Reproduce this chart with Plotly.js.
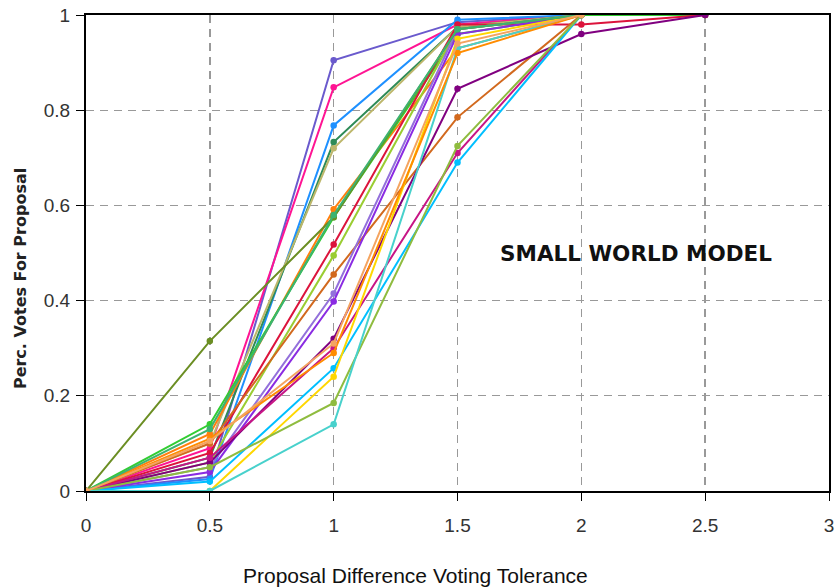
<!DOCTYPE html>
<html>
<head>
<meta charset="utf-8">
<script src="https://cdn.plot.ly/plotly-3.0.1.min.js"></script>
<style>html,body{margin:0;padding:0;background:#fff;}#chart{width:839px;height:588px;}</style>
</head>
<body>
<div id="chart"></div>
<script>
const tolerance = [0, 0.5, 1, 1.5, 2, 2.5];
const seriesNames = ["s1","s2","s3","s4","s5","s6","s7","s8","s9","s10","s11","s12","s13","s14","s15","s16","s17","s18","s19","s20","s21","s22"];
const seriesColors = ["#6a5acd","#ff1493","#1e90ff","#2e8b57","#bdb76b","#ff7f0e","#32cd32","#dc143c","#9acd32","#d2691e","#9370db","#8a2be2","#800080","#c71585","#00bfff","#ffd700","#8fbc3f","#48d1cc","#6b8e23","#ff8c00","#3cb371","#f4a460"];
const seriesValues = [
  [0, 0.03, 0.905, 0.985, 1],
  [0, 0.09, 0.848, 0.98, 1],
  [0, 0.025, 0.768, 0.99, 1],
  [0, 0.07, 0.733, 0.975, 1],
  [0, 0.10, 0.72, 0.975, 1],
  [0, 0.12, 0.592, 0.93, 1],
  [0, 0.14, 0.575, 0.96, 1, 1],
  [0, 0.08, 0.518, 0.98, 0.98, 1],
  [0, 0.06, 0.495, 0.97, 1],
  [0, 0.10, 0.455, 0.785, 1],
  [0, 0.05, 0.415, 0.97, 1],
  [0, 0.04, 0.398, 0.96, 1],
  [0, 0.06, 0.32, 0.845, 0.96, 1],
  [0, 0.07, 0.30, 0.71, 1],
  [0, 0.02, 0.258, 0.69, 1],
  [0, 0.0, 0.24, 0.95, 1],
  [0, 0.05, 0.185, 0.725, 1],
  [0, 0.0, 0.14, 0.93, 1],
  [0, 0.315, 0.575, 0.97, 1],
  [0, 0.11, 0.29, 0.92, 1],
  [0, 0.13, 0.58, 0.97, 1],
  [0, 0.105, 0.31, 0.94, 1]
];
const xTickVals = [0, 0.5, 1, 1.5, 2, 2.5, 3];
const xTickText = ["0","0.5","1","1.5","2","2.5","3"];
const yTickVals = [0, 0.2, 0.4, 0.6, 0.8, 1];
const yTickText = ["0","0.2","0.4","0.6","0.8","1"];

const traces = seriesValues.map((vals, i) => ({
  x: tolerance.slice(0, vals.length),
  y: vals,
  name: seriesNames[i],
  type: "scatter",
  mode: "lines+markers",
  line: {color: seriesColors[i], width: 2},
  marker: {color: seriesColors[i], size: 6.5},
  showlegend: false
}));

const tickFont = {family: "Liberation Sans, Arial", size: 19, color: "#333"};
const layout = {
  width: 839, height: 588,
  margin: {l: 86, r: 10, t: 15, b: 97},
  paper_bgcolor: "#fff", plot_bgcolor: "#fff",
  xaxis: {
    range: [0, 3], tickvals: xTickVals, ticktext: xTickText,
    ticks: "outside", ticklen: 8, tickcolor: "#000", tickwidth: 1,
    ticklabelstandoff: 8,
    showline: true, linecolor: "#000", linewidth: 2, mirror: true,
    showgrid: true, gridcolor: "#999", griddash: "8px,6px", gridwidth: 1.4,
    zeroline: false, tickfont: tickFont
  },
  yaxis: {
    range: [0, 1], tickvals: yTickVals, ticktext: yTickText,
    ticks: "outside", ticklen: 8, tickcolor: "#000", tickwidth: 1,
    ticklabelstandoff: 2,
    showline: true, linecolor: "#000", linewidth: 2, mirror: true,
    showgrid: true, gridcolor: "#999", griddash: "8px,6px", gridwidth: 1.4,
    zeroline: false, tickfont: tickFont
  },
  annotations: [
    {text: "<b>SMALL WORLD MODEL</b>", xref: "paper", yref: "paper", x: 0.74, y: 0.5,
     xanchor: "center", yanchor: "middle",
     showarrow: false, font: {family: "DejaVu Sans, Verdana", size: 21.5, color: "#111"}},
    {text: "Proposal Difference Voting Tolerance", xref: "paper", yref: "paper", x: 0.444, y: -0.177,
     xanchor: "center", yanchor: "middle", showarrow: false,
     font: {family: "Liberation Sans, Arial", size: 21, color: "#111"}},
    {text: "<b>Perc. Votes For Proposal</b>", xref: "paper", yref: "paper", x: -0.089, y: 0.447,
     xanchor: "center", yanchor: "middle", showarrow: false, textangle: -90,
     font: {family: "DejaVu Sans, Verdana", size: 16, color: "#222"}}
  ]
};
Plotly.newPlot("chart", traces, layout, {displayModeBar: false, staticPlot: true});
</script>
</body>
</html>
